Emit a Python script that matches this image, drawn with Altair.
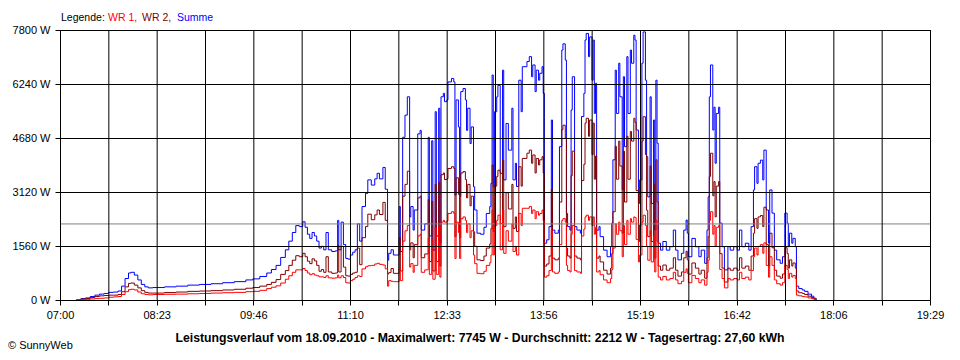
import json
import altair as alt
import pandas as pd

# ---- data ----
TIMES = [
    "07:14", "07:18", "07:22", "07:26", "07:30", "07:34", "07:38", "07:42", "07:46", "07:50",
    "07:53", "07:56", "07:59", "08:01", "08:04", "08:07", "08:10", "08:13", "08:16", "08:20",
    "08:30", "08:40", "08:50", "09:00", "09:10", "09:20", "09:30", "09:40", "09:46", "09:52",
    "09:58", "10:02", "10:06", "10:10", "10:14", "10:17", "10:20", "10:23", "10:26", "10:29",
    "10:31", "10:33", "10:35", "10:37", "10:39", "10:41", "10:43", "10:45", "10:47", "10:49",
    "10:51", "10:54", "10:57", "10:59", "11:00", "11:02", "11:04", "11:06", "11:08", "11:10",
    "11:12", "11:14", "11:16", "11:18", "11:20", "11:23", "11:25", "11:28", "11:31", "11:33",
    "11:35", "11:38", "11:40", "11:42", "11:43", "11:45", "11:47", "11:50", "11:52", "11:53",
    "11:55", "11:57", "11:59", "12:01", "12:02", "12:04", "12:05", "12:08", "12:10", "12:11",
    "12:14", "12:17", "12:18", "12:20", "12:21", "12:23", "12:24", "12:26", "12:27", "12:28",
    "12:30", "12:31", "12:33", "12:34", "12:37", "12:39", "12:40", "12:41", "12:43", "12:44",
    "12:45", "12:47", "12:49", "12:50", "12:51", "12:53", "12:54", "12:56", "12:57", "12:59",
    "13:02", "13:05", "13:07", "13:10", "13:11", "13:12", "13:13", "13:14", "13:16", "13:17",
    "13:19", "13:21", "13:22", "13:24", "13:26", "13:29", "13:30", "13:32", "13:33", "13:35",
    "13:37", "13:38", "13:42", "13:44", "13:46", "13:47", "13:49", "13:50", "13:52", "13:53",
    "13:55", "13:56", "13:57", "13:59", "14:01", "14:03", "14:04", "14:06", "14:09", "14:10",
    "14:12", "14:13", "14:15", "14:16", "14:17", "14:19", "14:20", "14:21", "14:23", "14:25",
    "14:28", "14:29", "14:31", "14:32", "14:33", "14:35", "14:36", "14:38", "14:39", "14:40",
    "14:41", "14:42", "14:44", "14:45", "14:48", "14:51", "14:54", "14:55", "14:56", "14:58",
    "14:59", "15:01", "15:02", "15:04", "15:05", "15:06", "15:08", "15:09", "15:11", "15:12",
    "15:14", "15:15", "15:16", "15:18", "15:19", "15:21", "15:22", "15:24", "15:25", "15:26",
    "15:28", "15:29", "15:31", "15:32", "15:33", "15:34", "15:35", "15:37", "15:39", "15:42",
    "15:45", "15:48", "15:50", "15:52", "15:55", "15:57", "15:59", "16:00", "16:01", "16:04",
    "16:07", "16:10", "16:12", "16:15", "16:17", "16:18", "16:19", "16:20", "16:22", "16:23",
    "16:24", "16:25", "16:27", "16:28", "16:30", "16:32", "16:35", "16:37", "16:40", "16:43",
    "16:45", "16:47", "16:50", "16:53", "16:55", "16:57", "16:58", "17:00", "17:01", "17:03",
    "17:05", "17:06", "17:08", "17:10", "17:11", "17:13", "17:15", "17:17", "17:20", "17:22",
    "17:24", "17:26", "17:27", "17:28", "17:30", "17:31", "17:33", "17:34", "17:36", "17:39",
    "17:41", "17:44", "17:47", "17:49", "17:51",
]

# Summe (blue), W
SUMME = [
    0, 40, 60, 100, 140, 170, 190, 220, 230, 260,
    400, 620, 780, 800, 720, 580, 450, 380, 350, 360,
    380, 400, 430, 450, 470, 500, 530, 580, 610, 680,
    780, 880, 1000, 1230, 1450, 1700, 1950, 2150, 2120, 2260,
    2100, 1900, 1780, 1950, 1850, 1700, 1500, 1550, 1450, 1950,
    1450, 1400, 1420, 2300, 1450, 2250, 1600, 1200, 1180, 1300,
    1380, 1450, 2200, 1700, 2700, 3080, 3470, 3320, 3500, 3660,
    3500, 3830, 3200, 1150, 1350, 1450, 1300, 1300, 2700, 1400,
    4700, 5340, 5870, 2400, 2700, 2020, 2600, 4800, 4900, 2020,
    2200, 4700, 1850, 4600, 1440, 5440, 1850, 5540, 1640, 5870,
    5970, 5730, 5780, 6300, 6400, 6300, 3030, 5780, 5000, 3000,
    6020, 6110, 5780, 4900, 5540, 4520, 5000, 3270, 2600, 1930,
    1900, 2100, 2500, 2700, 3370, 6500, 3270, 5440, 5870, 6200,
    3660, 6640, 3470, 5100, 4330, 5540, 3470, 3950, 3280, 6350,
    5440, 6740, 6890, 7030, 6450, 6790, 6020, 6640, 6350, 6550,
    6740, 5970, 1640, 1740, 2120, 5200, 2020, 1930, 2020, 4430,
    7220, 7400, 6930, 2500, 2120, 2020, 5490, 6450, 2120, 2020,
    1930, 5300, 5970, 7510, 7700, 7030, 7600, 6350, 7510, 5390,
    6260, 2020, 2120, 1830, 1440, 1250, 1540, 2220, 4050, 6640,
    5390, 6840, 5870, 3180, 6450, 4430, 7030, 5390, 7220, 6840,
    7650, 7510, 4910, 2790, 3470, 6840, 7745, 6350, 4140, 2980,
    5870, 2790, 5200, 2020, 6350, 4530, 1640, 1440, 1690, 1440,
    1540, 2020, 1440, 1160, 1350, 2020, 2310, 1930, 1250, 1780,
    1540, 1250, 1440, 1060, 2020, 2980, 5870, 6790, 4910, 5570,
    3950, 5390, 5570, 2220, 1540, 870, 1540, 1440, 1540, 1440,
    2020, 1540, 1640, 1440, 2120, 3180, 3850, 3370, 3950, 4040,
    3470, 4330, 2600, 1640, 3180, 2510, 1440, 1160, 1060, 1250,
    2510, 2220, 1540, 1930, 1640, 1780, 1540, 400, 330, 290,
    250, 170, 110, 50, 0,
]

# WR 1 (red), W
WR1 = [
    0, 10, 20, 30, 40, 50, 60, 80, 90, 100,
    160, 240, 300, 310, 290, 230, 180, 160, 150, 160,
    165, 170, 180, 190, 200, 210, 220, 240, 250, 280,
    330, 370, 410, 490, 600, 700, 800, 870, 870, 910,
    850, 780, 730, 760, 720, 700, 670, 670, 650, 700,
    640, 630, 640, 720, 640, 700, 650, 500, 490, 560,
    600, 650, 700, 680, 900, 960, 990, 1000, 1040, 1060,
    1030, 1010, 900, 400, 560, 540, 530, 530, 900, 560,
    1700, 2000, 2150, 950, 1050, 800, 1000, 1850, 1900, 800,
    870, 1800, 740, 1750, 600, 2100, 740, 2150, 660, 2250,
    2300, 2250, 2280, 2500, 2550, 2500, 1200, 2250, 1950, 1200,
    2350, 2400, 2300, 1950, 2200, 1800, 2000, 1300, 1050, 770,
    760, 830, 1000, 1080, 1300, 2600, 1300, 2150, 2300, 2450,
    1450, 2600, 1350, 2000, 1700, 2200, 1400, 1550, 1300, 2500,
    2150, 2650, 2650, 2700, 2500, 2600, 2350, 2550, 2450, 2500,
    2600, 2300, 660, 700, 850, 2000, 810, 770, 810, 1600,
    2300, 2350, 2250, 1000, 850, 810, 1900, 2150, 850, 810,
    770, 1850, 2050, 2400, 2450, 2300, 2400, 2150, 2400, 1900,
    2100, 810, 850, 730, 580, 500, 620, 880, 1500, 2200,
    1900, 2250, 2000, 1250, 2150, 1600, 2300, 1900, 2350, 2250,
    2400, 2380, 1750, 1100, 1300, 2250, 2450, 2150, 1550, 1150,
    2000, 1100, 1850, 810, 2300, 1700, 660, 580, 680, 580,
    620, 800, 580, 470, 540, 800, 900, 770, 500, 710,
    620, 500, 580, 430, 800, 1150, 2300, 2550, 1900, 2150,
    1550, 2100, 2150, 880, 620, 350, 620, 580, 620, 580,
    800, 620, 660, 580, 850, 1250, 1500, 1300, 1550, 1600,
    1350, 1650, 1000, 660, 1250, 1000, 580, 470, 430, 500,
    1000, 880, 620, 770, 660, 710, 620, 140, 120, 100,
    90, 60, 40, 20, 0,
]

assert len(TIMES) == len(SUMME) == len(WR1), (len(TIMES), len(SUMME), len(WR1))

X_LABELS = ["07:00", "08:23", "09:46", "11:10", "12:33", "13:56", "15:19", "16:42", "18:06", "19:29"]
Y_TICKS = [0, 1560, 3120, 4680, 6240, 7800]
AVERAGE = 2212
LEGEND_PARTS = ["Legende:", "WR 1,", "WR 2,", "Summe"]
TITLE = "Leistungsverlauf vom 18.09.2010 - Maximalwert: 7745 W - Durchschnitt: 2212 W - Tagesertrag: 27,60 kWh"
COPYRIGHT = "\u00a9 SunnyWeb"

# ---- table ----
START = 7 * 60
SPAN = 19 * 60 + 29 - START  # 749 minutes


def to_min(t):
    h, m = t.split(":")
    return int(h) * 60 + int(m) - START


df = pd.DataFrame({"m": [to_min(t) for t in TIMES], "summe": SUMME, "wr1": WR1})
df["wr2"] = df["summe"] - df["wr1"]

W, H = 870, 270
FONT = "Liberation Sans"
xs = alt.Scale(domain=[0, SPAN], nice=False, zero=False)
ys = alt.Scale(domain=[0, 7800], nice=False)

grid_pos = [k * SPAN / 18 for k in range(19)]
idx = f"round(datum.value*18/{SPAN})"
label_expr = f"({idx} % 2 == 0) ? {json.dumps(X_LABELS)}[{idx}/2] : ''"

x_axis = alt.Axis(values=grid_pos, labelExpr=label_expr, tickSize=5, tickColor="black",
                  tickWidth=1, domain=False, grid=False, labelFont=FONT, labelFontSize=11,
                  labelColor="black", labelPadding=4, title="", labelFlush=False,
                  labelOverlap=False)
y_axis = alt.Axis(values=Y_TICKS, labelExpr="datum.value + ' W'", tickSize=5,
                  tickColor="black", tickWidth=1, domain=False, grid=False, labelFont=FONT,
                  labelFontSize=11, labelColor="black", labelPadding=5, title="")

X = alt.X("m:Q", scale=xs, axis=x_axis)


def series(col, color):
    return alt.Chart(df).mark_line(interpolate="step-after", color=color, strokeWidth=1).encode(
        x=X, y=alt.Y(f"{col}:Q", scale=ys, axis=y_axis),
    )


blue = series("summe", "#0000ff")
dred = series("wr2", "#800000")
red = series("wr1", "#ff0000")

avg = alt.Chart(pd.DataFrame({"w": [AVERAGE]})).mark_rule(color="#808080", strokeWidth=1, yOffset=0.5).encode(
    y=alt.Y("w:Q", scale=ys, axis=y_axis), x=alt.value(0), x2=alt.value(W))

vgrid = alt.Chart(pd.DataFrame({"m": grid_pos})).mark_rule(color="black", strokeWidth=1, xOffset=0.5).encode(
    x=X, y=alt.value(0), y2=alt.value(H + 0.5))

hgrid = alt.Chart(pd.DataFrame({"w": Y_TICKS})).mark_rule(color="black", strokeWidth=1, yOffset=0.5).encode(
    y=alt.Y("w:Q", scale=ys, axis=y_axis), x=alt.value(0), x2=alt.value(W + 0.5))


def text(s, x, y, color="black", bold=False, align="left", size=11):
    return alt.Chart(pd.DataFrame({"t": [s]})).mark_text(
        font=FONT, fontSize=size, fontWeight="bold" if bold else "normal", color=color,
        align=align, baseline="alphabetic").encode(
        text="t:N", x=alt.value(x), y=alt.value(y))


legend = [
    text(LEGEND_PARTS[0], 1, -9, size=10.5),
    text(LEGEND_PARTS[1], 48, -9, "#ff0000", size=10.5),
    text(LEGEND_PARTS[2], 82, -9, "#800000", size=10.5),
    text(LEGEND_PARTS[3], 117, -9, "#0000ff", size=10.5),
]
title = text(TITLE, 420, 311.5, bold=True, align="center", size=12.25)
copy = text(COPYRIGHT, -52, 318.5)

chart = alt.layer(blue, dred, red, avg, vgrid, hgrid, *legend, title, copy).properties(
    width=W, height=H,
    padding={"left": 52, "top": 22, "right": 22, "bottom": 52},
    autosize=alt.AutoSizeParams(type="none"),
    background="white",
).configure_view(strokeWidth=0)

chart.save("out.html", embed_options={"renderer": "svg", "actions": False})
